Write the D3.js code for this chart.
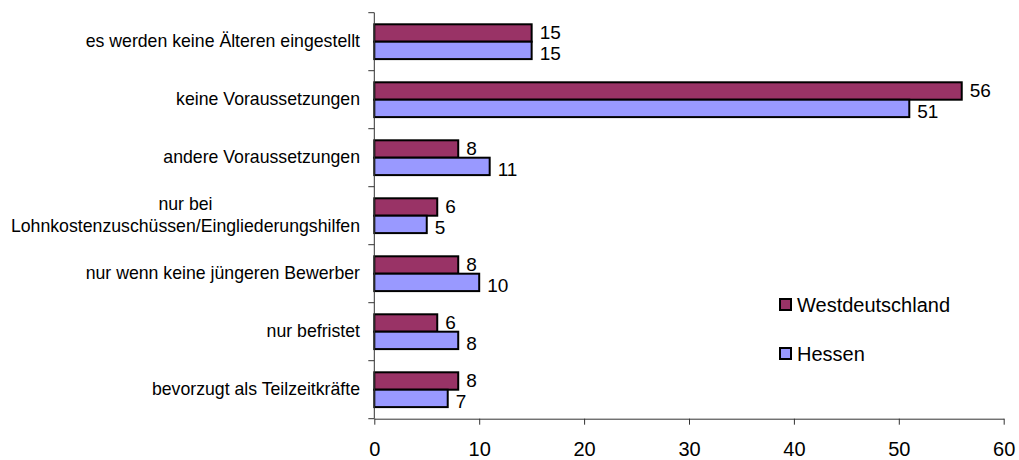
<!DOCTYPE html>
<html>
<head>
<meta charset="utf-8">
<script src="https://cdn.jsdelivr.net/npm/d3@7"></script>
<style>
  html, body { margin: 0; padding: 0; background: #fff; }
  svg { display: block; font-family: "Liberation Sans", Arial, sans-serif; }
</style>
</head>
<body>
<svg id="chart" width="1019" height="460"></svg>
<script>
// Category labels (top to bottom); "\n" marks a manual line break
const categories = [
  "es werden keine Älteren eingestellt",
  "keine Voraussetzungen",
  "andere Voraussetzungen",
  "nur bei\nLohnkostenzuschüssen/Eingliederungshilfen",
  "nur wenn keine jüngeren Bewerber",
  "nur befristet",
  "bevorzugt als Teilzeitkräfte"
];
const seriesNames = ["Westdeutschland", "Hessen"];
const westValues = [15, 56, 8, 6, 8, 6, 8];
const hessenValues = [15, 51, 11, 5, 10, 8, 7];
const xTicks = [0, 10, 20, 30, 40, 50, 60];

const colors = { "Westdeutschland": "#993366", "Hessen": "#9999FF" };
const valuesBySeries = { "Westdeutschland": westValues, "Hessen": hessenValues };
// small vertical nudge of the value labels per series
const labelShift = { "Westdeutschland": -0.5, "Hessen": 3 };

const svg = d3.select("#chart");
const plot = { left: 374.3, right: 1003.7, top: 12.7, bottom: 418.7 };

const x = d3.scaleLinear().domain([0, 60]).range([plot.left, plot.right]);
const y0 = d3.scaleBand().domain(categories).range([plot.top, plot.bottom])
  .paddingInner(0.4).paddingOuter(0.2);
const y1 = d3.scaleBand().domain(seriesNames).range([0, y0.bandwidth()]).padding(0);

const rows = categories.map((c, i) => ({
  category: c,
  values: seriesNames.map(s => ({ series: s, value: valuesBySeries[s][i] }))
}));

// Bars
const groups = svg.append("g").selectAll("g").data(rows).join("g")
  .attr("transform", d => `translate(0,${y0(d.category)})`);

groups.selectAll("rect").data(d => d.values).join("rect")
  .attr("x", x(0))
  .attr("y", d => y1(d.series))
  .attr("width", d => x(d.value) - x(0))
  .attr("height", y1.bandwidth())
  .attr("fill", d => colors[d.series])
  .attr("stroke", "#000")
  .attr("stroke-width", 2);

// Value labels
groups.selectAll("text.val").data(d => d.values).join("text")
  .attr("class", "val")
  .attr("x", d => x(d.value) + 8)
  .attr("y", d => y1(d.series) + y1.bandwidth() / 2 + labelShift[d.series])
  .attr("dy", "0.35em")
  .attr("font-size", 19)
  .attr("fill", "#000")
  .text(d => d.value);

// X axis
const xAxis = svg.append("g")
  .attr("transform", `translate(0,${plot.bottom})`)
  .call(d3.axisBottom(x).tickValues(xTicks).tickSize(6).tickPadding(17).tickSizeOuter(0));
xAxis.select(".domain").attr("stroke", "#333");
xAxis.selectAll(".tick line").attr("stroke", "#333");
xAxis.selectAll(".tick text").attr("font-size", 20).attr("font-family", "Liberation Sans, Arial, sans-serif").attr("fill", "#000");

// Y axis: vertical line with ticks on category boundaries
const step = y0.step();
const boundaries = d3.range(categories.length + 1).map(i => plot.top + i * step);
svg.append("line")
  .attr("x1", plot.left).attr("x2", plot.left)
  .attr("y1", plot.top).attr("y2", plot.bottom)
  .attr("stroke", "#333");
svg.append("g").selectAll("line").data(boundaries).join("line")
  .attr("x1", plot.left - 6).attr("x2", plot.left)
  .attr("y1", d => d).attr("y2", d => d)
  .attr("stroke", "#333");

// Category labels: lines centred within a block that is right-aligned
const labelRight = 360;
const lineHeight = 21.5;
const labelG = svg.append("g").attr("font-size", 17.7).attr("fill", "#000");
categories.forEach(c => {
  const lines = c.split("\n");
  const cy = y0(c) + y0.bandwidth() / 2 - 1;
  const t = labelG.append("text").attr("text-anchor", "middle");
  const spans = lines.map((ln, j) => t.append("tspan")
    .attr("y", cy + (j - (lines.length - 1) / 2) * lineHeight)
    .attr("dy", "0.35em")
    .text(ln));
  const maxW = d3.max(spans, s => s.node().getComputedTextLength());
  spans.forEach(s => s.attr("x", labelRight - maxW / 2));
});

// Legend
const legend = svg.append("g");
seriesNames.forEach((s, i) => {
  const ly = 305 + i * 49;
  legend.append("rect")
    .attr("x", 780).attr("y", ly - 6)
    .attr("width", 11).attr("height", 11)
    .attr("fill", colors[s]).attr("stroke", "#000").attr("stroke-width", 2);
  legend.append("text")
    .attr("x", 797).attr("y", ly).attr("dy", "0.35em")
    .attr("font-size", 20).attr("fill", "#000")
    .text(s);
});
</script>
</body>
</html>
